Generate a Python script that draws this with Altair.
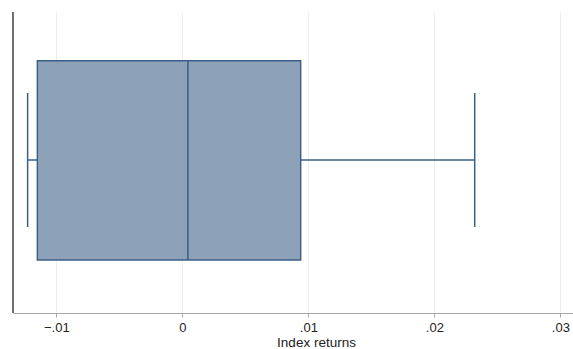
import altair as alt
import pandas as pd

# Five-number summary of the index return series
lower_whisker = [-0.01228]
q1 = [-0.01151]
median = [0.00044]
q3 = [0.00939]
upper_whisker = [0.02320]

tick_values = [-0.01, 0.0, 0.01, 0.02, 0.03]

df = pd.DataFrame({
    "lw": lower_whisker,
    "q1": q1,
    "med": median,
    "q3": q3,
    "uw": upper_whisker,
})

W, H = 560, 301
FILL = "#8DA2B8"
STROKE = "#3A5E88"

xscale = alt.Scale(domain=[-0.01344, 0.031], nice=False, zero=False)
xaxis = alt.Axis(
    values=tick_values,
    labelExpr="datum.value == 0 ? '0' : replace(format(datum.value, '.2f'), '0.', '.')",
    title="Index returns",
    titleX=303,
    titleAnchor="start",
    titleAlign="center",
    grid=True,
    gridColor="#E9EFF1",
    gridWidth=1,
    domainColor="#A8A8A8",
    domainWidth=1.2,
    tickColor="#A8A8A8",
    tickSize=4,
    labelFont="Liberation Sans",
    labelFontSize=13,
    labelColor="#222222",
    labelPadding=4,
    titleFont="Liberation Sans",
    titleFontSize=13.5,
    titleFontWeight="normal",
    titleColor="#222222",
    titlePadding=1,
)

base = alt.Chart(df)

box_top, box_bot = 48.7, 248
cap_top, cap_bot = 81, 215
mid = 148

box = base.mark_rect(fill=FILL, stroke=STROKE, strokeWidth=1.4).encode(
    x=alt.X("q1:Q", scale=xscale, axis=xaxis),
    x2="q3:Q",
    y=alt.value(box_top),
    y2=alt.value(box_bot),
)

med_line = base.mark_rule(color=STROKE, strokeWidth=1.5).encode(
    x="med:Q", y=alt.value(box_top), y2=alt.value(box_bot)
)

lower_stem = base.mark_rule(color=STROKE, strokeWidth=1.5).encode(
    x="lw:Q", x2="q1:Q", y=alt.value(mid)
)
upper_stem = base.mark_rule(color=STROKE, strokeWidth=1.5).encode(
    x="q3:Q", x2="uw:Q", y=alt.value(mid)
)
lower_cap = base.mark_rule(color=STROKE, strokeWidth=1.5).encode(
    x="lw:Q", y=alt.value(cap_top), y2=alt.value(cap_bot)
)
upper_cap = base.mark_rule(color=STROKE, strokeWidth=1.5).encode(
    x="uw:Q", y=alt.value(cap_top), y2=alt.value(cap_bot)
)

# Left axis line (no ticks or labels on the categorical side)
y_line = base.mark_rule(color="#222222", strokeWidth=1.3).encode(
    x=alt.value(0), y=alt.value(0), y2=alt.value(H)
)

chart = (
    alt.layer(box, med_line, lower_stem, upper_stem, lower_cap, upper_cap, y_line)
    .properties(
        width=W,
        height=H,
        autosize=alt.AutoSizeParams(type="none"),
        padding={"left": 13, "top": 12, "right": 0, "bottom": 36},
        background="white",
    )
    .configure_view(stroke=None)
)

chart.save("out.html", embed_options={"renderer": "svg", "actions": False})
